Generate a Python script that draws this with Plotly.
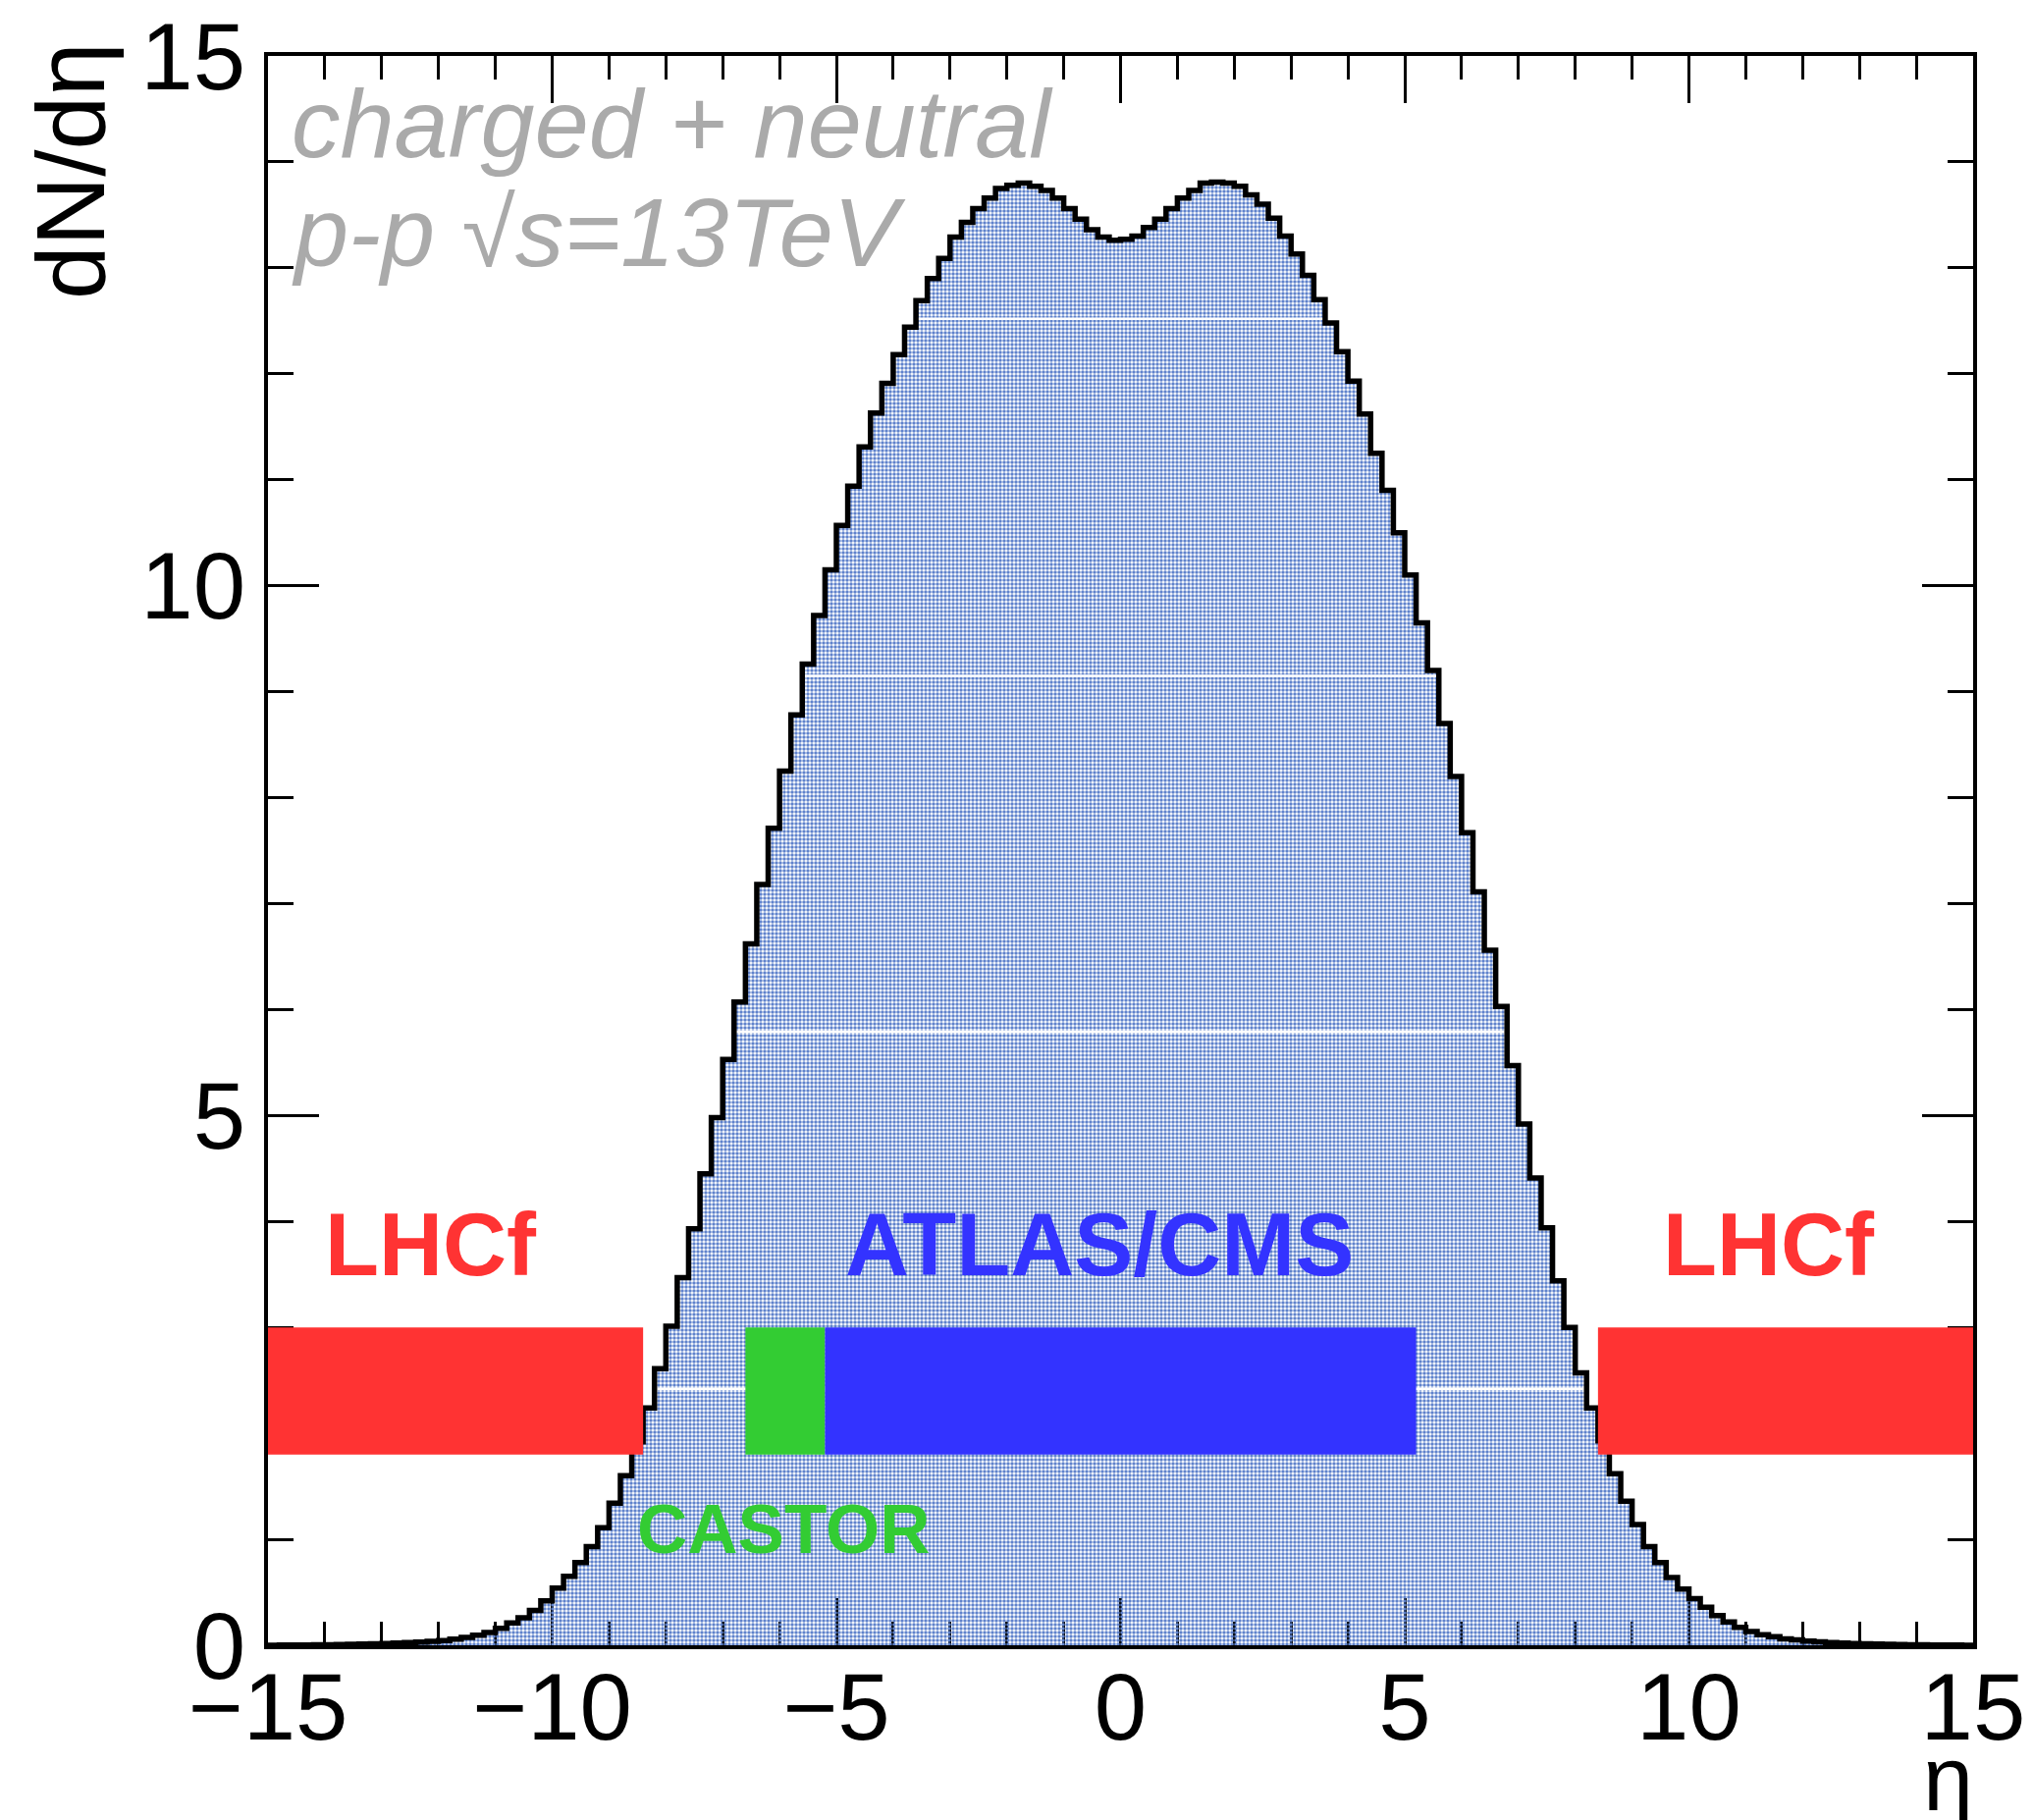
import numpy as np
import plotly.graph_objects as go

# ---------------- data ----------------
eta_min, eta_max, n_bins = -15.0, 15.0, 150
dndeta = [
    0.001, 0.002, 0.002, 0.003, 0.004,
    0.005, 0.007, 0.009, 0.011, 0.014,
    0.017, 0.021, 0.025, 0.030, 0.036,
    0.045, 0.058, 0.075, 0.095, 0.12,
    0.16, 0.21, 0.26, 0.33, 0.42,
    0.54, 0.65, 0.78, 0.93, 1.11,
    1.34, 1.60, 1.92, 2.24, 2.61,
    3.01, 3.47, 3.93, 4.45, 4.98,
    5.53, 6.07, 6.62, 7.18, 7.71,
    8.25, 8.78, 9.26, 9.72, 10.15,
    10.57, 10.94, 11.31, 11.63, 11.91,
    12.18, 12.44, 12.69, 12.90, 13.09,
    13.29, 13.43, 13.56, 13.66, 13.75,
    13.78, 13.80, 13.77, 13.73, 13.66,
    13.56, 13.46, 13.36, 13.29, 13.26,
    13.27, 13.30, 13.38, 13.46, 13.56,
    13.66, 13.73, 13.80, 13.81, 13.80,
    13.77, 13.69, 13.60, 13.47, 13.30,
    13.13, 12.93, 12.70, 12.48, 12.21,
    11.93, 11.62, 11.25, 10.90, 10.50,
    10.10, 9.65, 9.20, 8.70, 8.20,
    7.67, 7.11, 6.56, 6.03, 5.47,
    4.92, 4.41, 3.94, 3.44, 3.00,
    2.57, 2.24, 1.93, 1.62, 1.36,
    1.14, 0.93, 0.78, 0.64, 0.53,
    0.44, 0.36, 0.28, 0.22, 0.17,
    0.13, 0.10, 0.08, 0.06, 0.05,
    0.040, 0.032, 0.026, 0.021, 0.017,
    0.014, 0.011, 0.009, 0.007, 0.005,
    0.004, 0.003, 0.002, 0.002, 0.001,
]

detector_names = ["LHCf", "CASTOR", "ATLAS/CMS", "LHCf"]
detector_eta_lo = [-15.0, -6.6, -5.2, 8.4]
detector_eta_hi = [-8.4, -5.2, 5.2, 15.0]
detector_colors = ["#ff3333", "#33cc33", "#3333ff", "#ff3333"]

x_tick_vals = [-15, -10, -5, 0, 5, 10, 15]
y_tick_vals = [0, 5, 10, 15]

# rendering artefact levels (white lines inside the hatched fill)
artefact_levels = [2.42, 5.79, 9.15, 12.52]

# ---------------- figure ----------------
edges = np.linspace(eta_min, eta_max, n_bins + 1)
vals = np.array(dndeta)
x_step = list(edges)
y_step = list(vals) + [vals[-1]]

W, H = 2071, 1854
L, R, T, B = 265, 69, 49, 186
PW, PH = W - L - R, H - T - B
FONT = "Liberation Sans, Arial, Helvetica, sans-serif"

fig = go.Figure()

# hatched fill
fig.add_trace(go.Scatter(
    x=x_step, y=y_step, mode="lines", line_shape="hv",
    line=dict(width=0, color="rgba(0,0,0,0)"),
    fill="tozeroy", fillcolor="rgba(0,0,0,0)",
    fillpattern=dict(shape=".", fgcolor="#5f82cc", bgcolor="rgba(255,255,255,0)",
                     size=4, solidity=0.6, fillmode="replace"),
    hoverinfo="skip", showlegend=False,
))

# white artefact lines inside the fill
ax, ay = [], []
for lev in artefact_levels:
    idx = np.where(vals >= lev)[0]
    if len(idx):
        ax += [edges[idx[0]], edges[idx[-1] + 1], None]
        ay += [lev, lev, None]
fig.add_trace(go.Scatter(x=ax, y=ay, mode="lines",
                         line=dict(color="white", width=2.5),
                         hoverinfo="skip", showlegend=False))

# outline
fig.add_trace(go.Scatter(
    x=x_step, y=y_step, mode="lines", line_shape="hv",
    line=dict(width=5.5, color="black"),
    hoverinfo="skip", showlegend=False,
))

# detector bands
for lo, hi, c in zip(detector_eta_lo, detector_eta_hi, detector_colors):
    fig.add_shape(type="rect", xref="x", yref="y", x0=lo, x1=hi, y0=1.8, y1=3.0,
                  fillcolor=c, line=dict(width=0), layer="above")

# detector labels
label_pos = {0: (-12.14, 3.78, 90), 1: (-5.93, 1.10, 71), 2: (-0.37, 3.78, 90), 3: (11.41, 3.78, 90)}
for i, (name, c) in enumerate(zip(detector_names, detector_colors)):
    xx, yy, fs = label_pos[i]
    fig.add_annotation(x=xx, y=yy, xref="x", yref="y", text=f"<b>{name}</b>",
                       showarrow=False, xanchor="center", yanchor="middle",
                       font=dict(family=FONT, size=fs, color=c))

# gray text
fig.add_annotation(x=-14.62, y=14.37, xref="x", yref="y", text="<i>charged + neutral</i>",
                   showarrow=False, xanchor="left", yanchor="middle",
                   font=dict(family=FONT, size=99, color="#aaaaaa"))
fig.add_annotation(x=-14.62, y=13.34, xref="x", yref="y", text="<i>p-p √s=13TeV</i>",
                   showarrow=False, xanchor="left", yanchor="middle",
                   font=dict(family=FONT, size=99, color="#aaaaaa"))

# axis titles
fig.add_annotation(x=(64 - L) / PW, y=(H - B - 166) / PH, xref="paper", yref="paper",
                   text="dN/dη", textangle=-90, showarrow=False,
                   xanchor="center", yanchor="middle",
                   font=dict(family=FONT, size=98, color="black"))
fig.add_annotation(x=(2004 - L) / PW, y=-(1804 - (H - B)) / PH, xref="paper", yref="paper",
                   text="η", showarrow=False, xanchor="right", yanchor="middle",
                   font=dict(family=FONT, size=92, color="black"))

axis_common = dict(
    showgrid=False, zeroline=False, showline=True, linecolor="black", linewidth=3.5,
    mirror="ticks", ticks="inside", tickcolor="black", tickwidth=3,
    tickfont=dict(family=FONT, size=96, color="black"), layer="below traces",
    ticklabeloverflow="allow", automargin=False,
)
fig.update_xaxes(range=[eta_min, eta_max], tickvals=x_tick_vals, ticklen=48,
                 ticklabelstandoff=-23,
                 minor=dict(dtick=1, tick0=0, ticks="inside", ticklen=24, tickcolor="black", tickwidth=3),
                 **axis_common)
fig.update_yaxes(range=[0, 15], tickvals=y_tick_vals, ticklen=52,
                 minor=dict(dtick=1, tick0=0, ticks="inside", ticklen=26, tickcolor="black", tickwidth=3),
                 **axis_common)

fig.update_layout(
    width=W, height=H, margin=dict(l=L, r=R, t=T, b=B, autoexpand=False),
    paper_bgcolor="white", plot_bgcolor="white", showlegend=False,
)

fig.write_html("out.html")
